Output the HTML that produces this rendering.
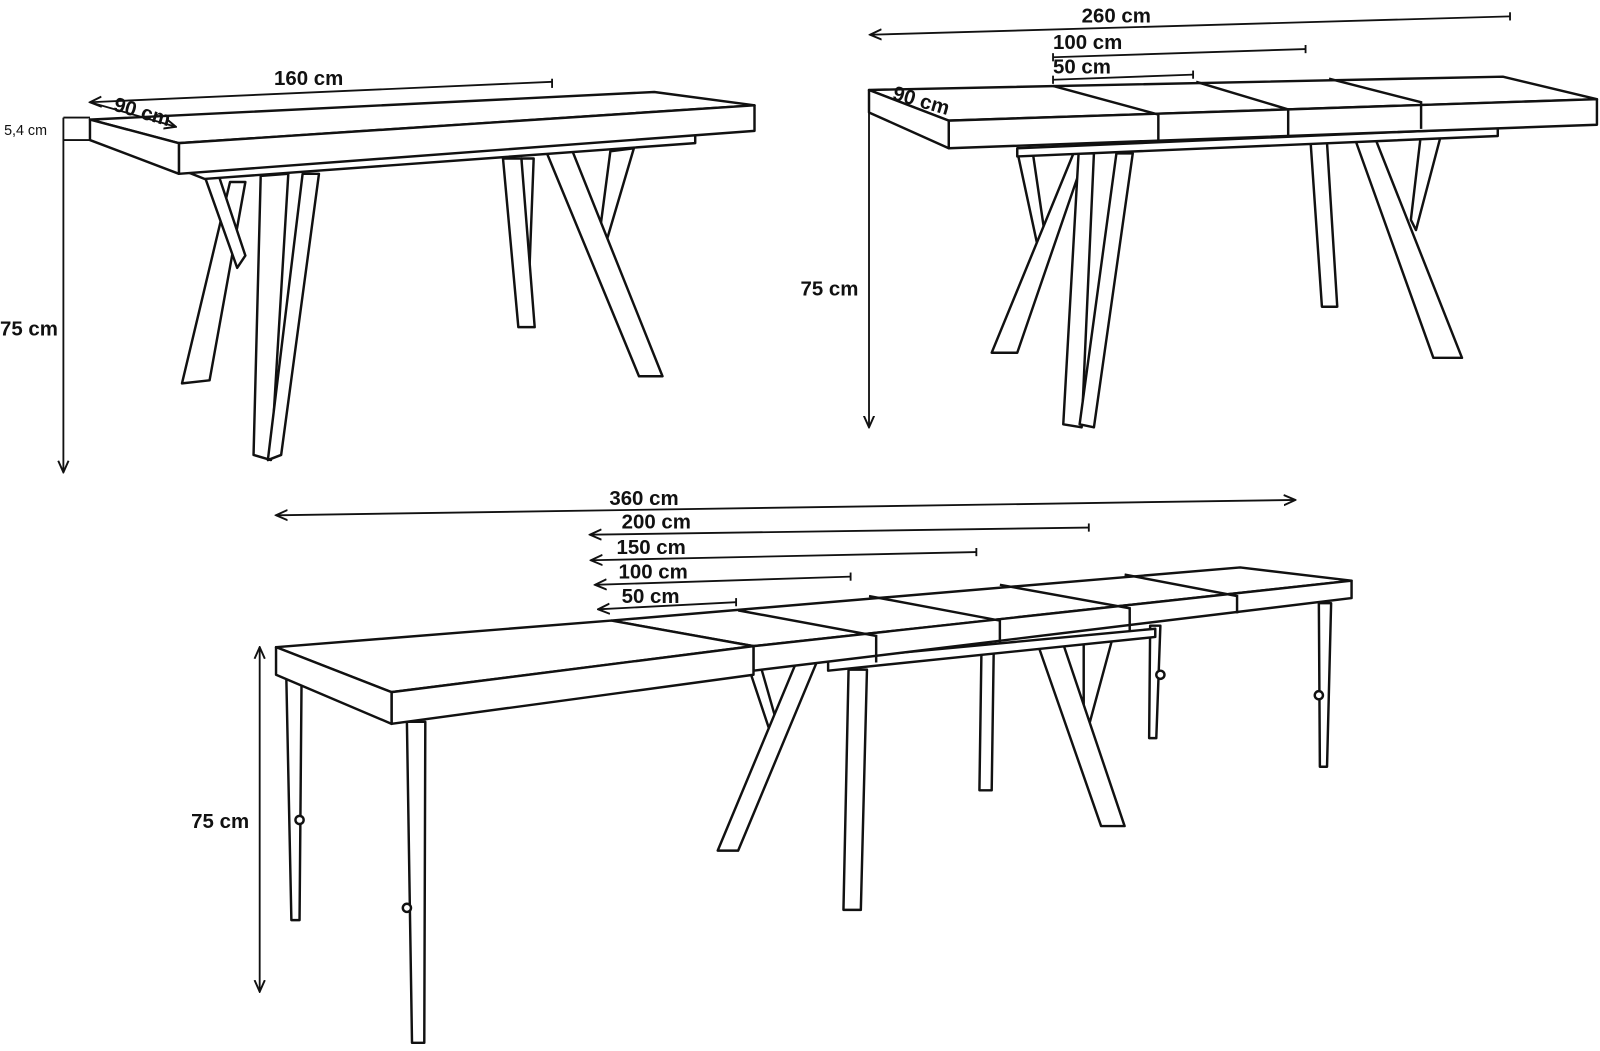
<!DOCTYPE html>
<html><head><meta charset="utf-8"><style>
html,body{margin:0;padding:0;background:#fff;}
svg{display:block}
text{font-family:"Liberation Sans",sans-serif;font-weight:bold;fill:#111;font-size:20px}
</style></head><body>
<svg width="1600" height="1051" viewBox="0 0 1565 1028" preserveAspectRatio="none" xmlns="http://www.w3.org/2000/svg">
<defs>
<marker id="a" viewBox="0 0 10 10" refX="9" refY="5" markerWidth="7" markerHeight="7" orient="auto-start-reverse"><path d="M0,1 L9,5 L0,9" fill="none" stroke="#111" stroke-width="1.5"/></marker>
</defs>
<g fill="#fff" stroke="#111" stroke-width="2.4" stroke-linejoin="round">
<!-- TABLE 1 -->
<polygon points="225,178 240,178 205,372 178,375"/>
<polygon points="200,172 214,172 240,250 232,262"/>
<polygon points="255,172 282,170 265,450 248,445"/>
<polygon points="296,170 312,170 275,445 262,450"/>
<polygon points="510,155 522,155 518,260 512,260"/>
<polygon points="492,155 510,155 523,320 507,320"/>
<polygon points="597,148 620,145 592,240 586,232"/>
<polygon points="535,150 560,148 648,368 625,368"/>
<polygon points="175,165 680,132 680,140 200,175"/>
<polygon points="88,117 640,90 738,103 175,140"/>
<polygon points="175,140 738,103 738,128 175,170"/>
<polygon points="88,117 175,140 175,170 88,137"/>
<!-- TABLE 2 -->
<polygon points="995,148 1010,148 1025,250 1018,255"/>
<polygon points="1050,150 1062,150 995,345 970,345"/>
<polygon points="1055,150 1070,150 1058,418 1040,415"/>
<polygon points="1092,150 1108,150 1070,418 1056,415"/>
<polygon points="1282,140 1298,140 1308,300 1293,300"/>
<polygon points="1390,130 1410,130 1385,225 1380,215"/>
<polygon points="1325,135 1345,135 1430,350 1402,350"/>
<polygon points="995,145 1465,125 1465,133 995,153"/>
<polygon points="850,88 1470,75 1562,97 928,118"/>
<polygon points="928,118 1562,97 1562,122 928,145"/>
<polygon points="850,88 928,118 928,145 850,110"/>
<!-- TABLE 3 legs -->
<polygon points="280,660 295,660 293,900 285,900"/>
<polygon points="398,706 416,706 415,1020 403,1020"/>
<polygon points="733,655 745,655 765,725 758,730"/>
<polygon points="780,645 800,645 722,832 702,832"/>
<polygon points="830,655 848,655 842,890 825,890"/>
<polygon points="960,635 972,635 970,773 958,773"/>
<polygon points="1060,630 1088,625 1065,710 1060,700"/>
<polygon points="1015,630 1040,630 1100,808 1077,808"/>
<polygon points="1125,612 1135,612 1131,722 1124,722"/>
<polygon points="1290,590 1302,590 1298,750 1291,750"/>
<polygon points="810,645 1130,615 1130,623 810,656"/>
<!-- TABLE 3 top -->
<polygon points="598,607 1213,555 1322,568 737,632"/>
<polygon points="737,632 1322,568 1322,585 737,656"/>
<polygon points="270,633 598,607 737,632 383,677"/>
<polygon points="383,677 737,632 737,660 383,708"/>
<polygon points="270,633 383,677 383,708 270,660"/>
</g>
<g fill="none" stroke="#111" stroke-width="2.4">
<path d="M1030,84 L1133,112 M1133,112 V138 M1170,80 L1260,107 V132 M1300,77 L1390,100 V126"/>
<path d="M722,597 L857,622 V648 M850,583 L978,607 V630 M978,572 L1105,595 V618 M1100,562 L1210,583 V600"/>
<circle cx="293" cy="802" r="4" fill="#fff"/><circle cx="398" cy="888" r="4" fill="#fff"/>
<circle cx="1135" cy="660" r="4" fill="#fff"/><circle cx="1290" cy="680" r="4" fill="#fff"/>
</g>
<g stroke="#111" stroke-width="1.8" fill="none">
<line x1="88" y1="100" x2="540" y2="80" marker-start="url(#a)"/><line x1="540" y1="77" x2="540" y2="86"/>
<line x1="88" y1="100" x2="172" y2="124" marker-end="url(#a)"/>
<line x1="62" y1="115" x2="88" y2="115"/><line x1="62" y1="137" x2="88" y2="137"/>
<line x1="62" y1="115" x2="62" y2="462" marker-end="url(#a)"/>
<line x1="851" y1="34" x2="1477" y2="16" marker-start="url(#a)"/><line x1="1477" y1="12" x2="1477" y2="20"/>
<line x1="1030" y1="56" x2="1277" y2="48"/><line x1="1030" y1="52" x2="1030" y2="60"/><line x1="1277" y1="44" x2="1277" y2="52"/>
<line x1="1030" y1="78" x2="1167" y2="73"/><line x1="1030" y1="74" x2="1030" y2="82"/><line x1="1167" y1="69" x2="1167" y2="77"/>
<line x1="850" y1="88" x2="850" y2="418" marker-end="url(#a)"/>
<line x1="270" y1="504" x2="1267" y2="489" marker-start="url(#a)" marker-end="url(#a)"/>
<line x1="577" y1="523" x2="1065" y2="516" marker-start="url(#a)"/><line x1="1065" y1="512" x2="1065" y2="520"/>
<line x1="578" y1="548" x2="955" y2="540" marker-start="url(#a)"/><line x1="955" y1="536" x2="955" y2="544"/>
<line x1="582" y1="572" x2="832" y2="564" marker-start="url(#a)"/><line x1="832" y1="560" x2="832" y2="568"/>
<line x1="585" y1="596" x2="720" y2="589" marker-start="url(#a)"/><line x1="720" y1="585" x2="720" y2="593"/>
<line x1="254" y1="633" x2="254" y2="970" marker-start="url(#a)" marker-end="url(#a)"/>
</g>
<text x="268" y="83">160 cm</text>
<text x="110" y="108" transform="rotate(16 110 108)">90 cm</text>
<text x="4" y="132" style="font-size:14px;font-weight:normal">5,4 cm</text>
<text x="0" y="328">75 cm</text>
<text x="1058" y="22">260 cm</text>
<text x="1030" y="48">100 cm</text>
<text x="1030" y="72">50 cm</text>
<text x="872" y="97" transform="rotate(16 872 97)">90 cm</text>
<text x="783" y="289">75 cm</text>
<text x="596" y="494">360 cm</text>
<text x="608" y="517">200 cm</text>
<text x="603" y="542">150 cm</text>
<text x="605" y="566">100 cm</text>
<text x="608" y="590">50 cm</text>
<text x="187" y="810">75 cm</text>
</svg>
</body></html>
